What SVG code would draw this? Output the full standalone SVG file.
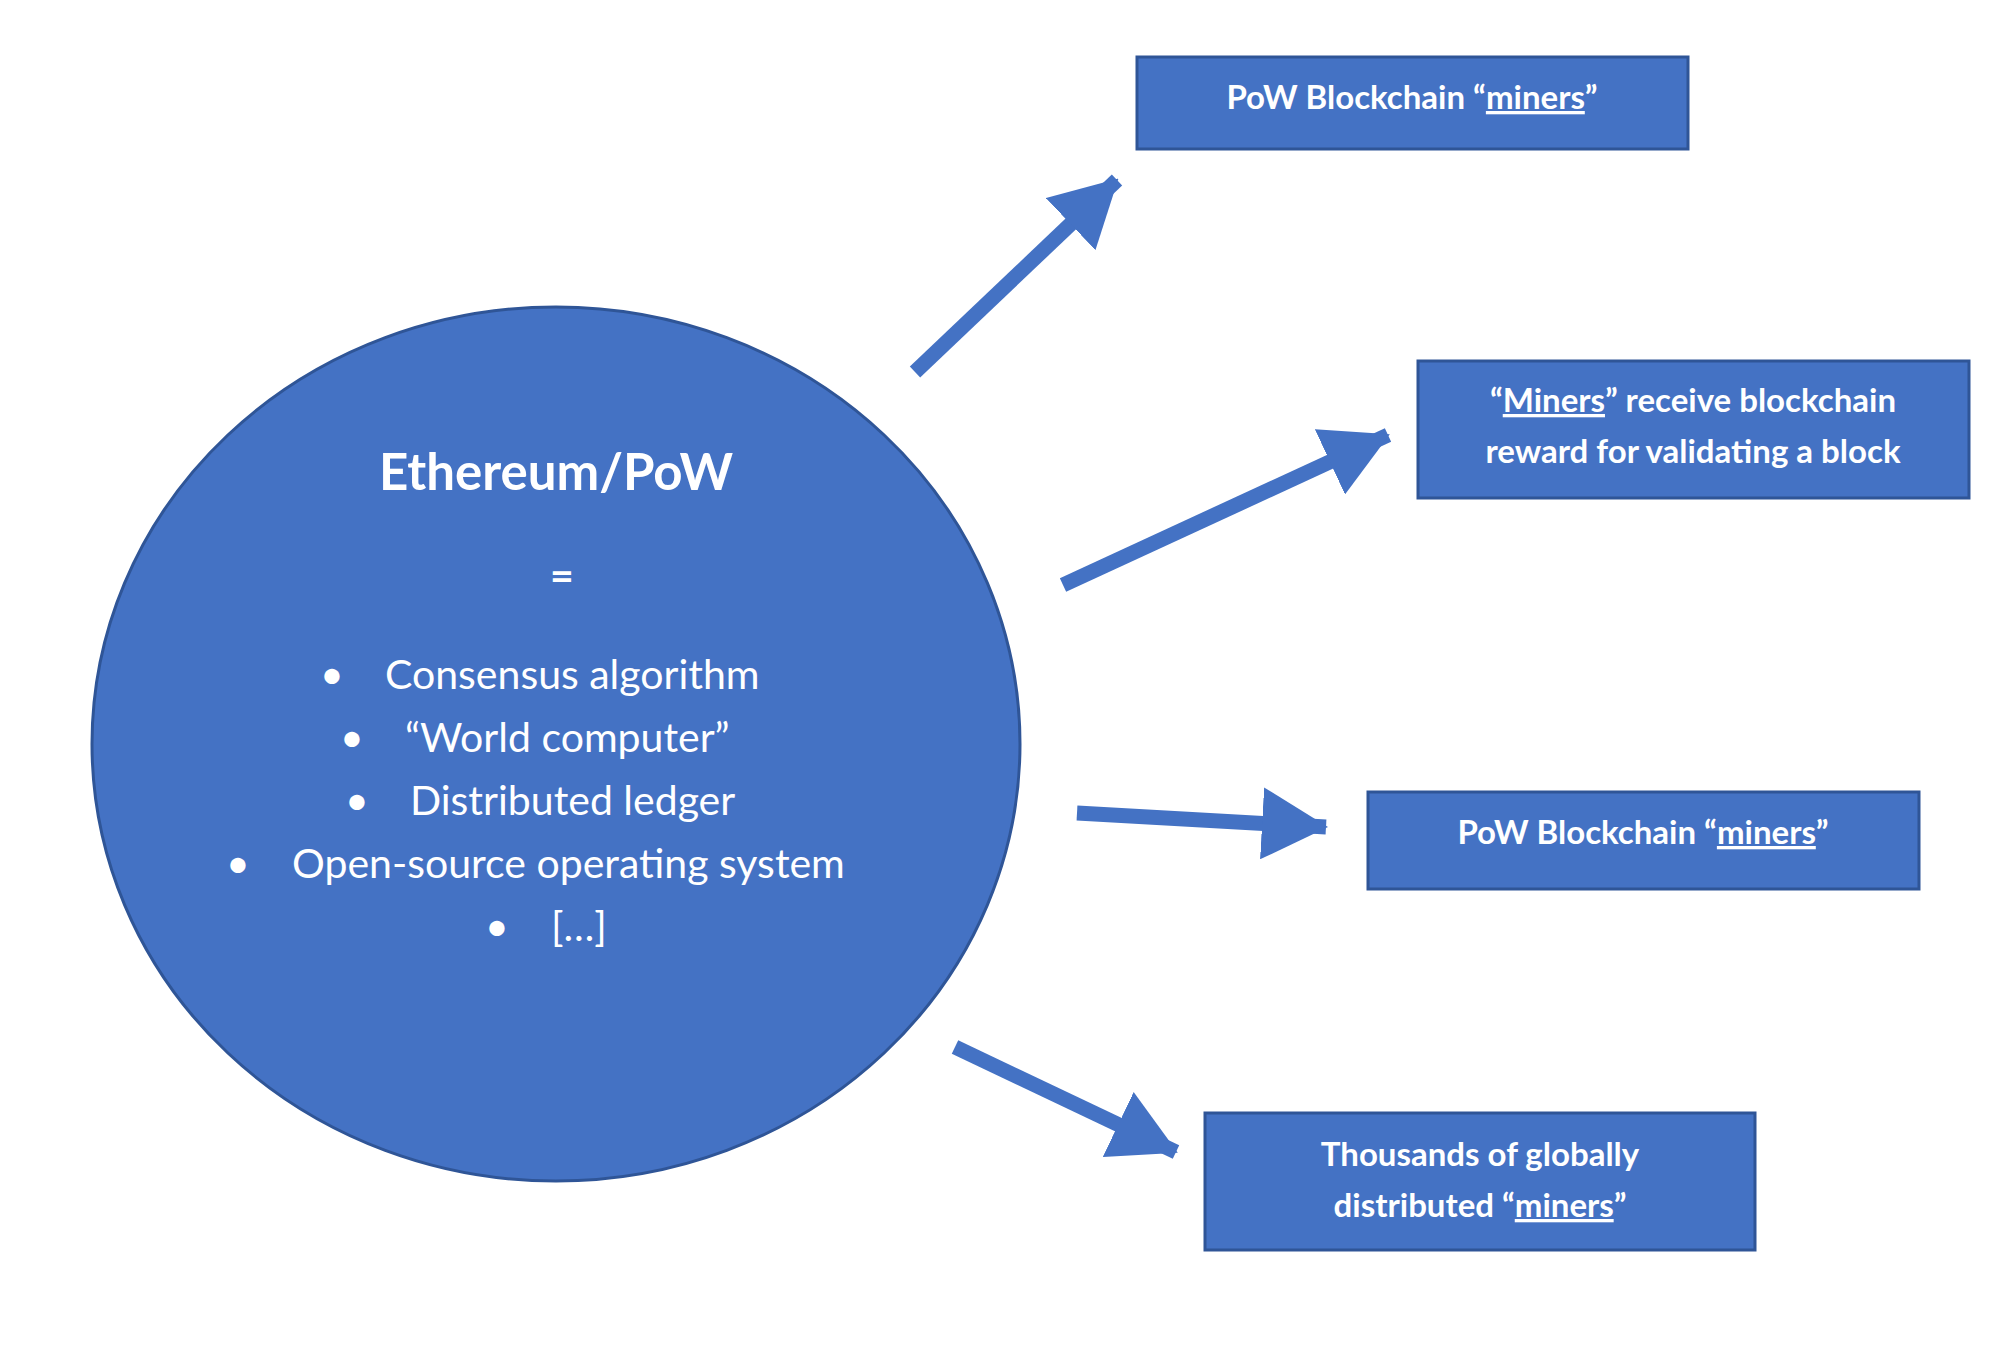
<svg xmlns="http://www.w3.org/2000/svg" width="2000" height="1359" viewBox="0 0 2000 1359">
<style>
.n{fill:#4472c4;stroke:#2f5597;stroke-width:3}
.t{fill:#fff;font-family:Lato,"Open Sans",sans-serif}
.b{font-weight:bold;font-size:33px}
.l{font-size:41px}
.u{text-decoration:underline}
.c{stroke:#4472c4;stroke-width:15;fill:none}
</style>
<defs><marker id="ah" markerUnits="userSpaceOnUse" markerWidth="66" markerHeight="72" refX="64" refY="36" orient="auto"><path d="M0,0 L66,36 L0,72 Z" fill="#4472c4"/></marker></defs>
<rect width="2000" height="1359" fill="#fff"/>
<g id="connectors">
<line class="c" x1="915" y1="372" x2="1117" y2="180" marker-end="url(#ah)"/>
<line class="c" x1="1063" y1="585" x2="1388" y2="435" marker-end="url(#ah)"/>
<line class="c" x1="1077" y1="813" x2="1326" y2="827" marker-end="url(#ah)"/>
<line class="c" x1="955" y1="1047" x2="1176" y2="1152" marker-end="url(#ah)"/>
</g>
<g id="ethereum">
<ellipse class="n" cx="556" cy="744" rx="464" ry="437"/>
<text class="t" x="556" y="490" font-size="51" font-weight="bold" text-anchor="middle">Ethereum/PoW</text>
<text class="t" x="562" y="590" font-size="41" font-weight="bold" text-anchor="middle">=</text>
<g class="t l">
<text x="320" y="689">•</text><text x="385" y="689">Consensus algorithm</text>
<text x="340" y="752">•</text><text x="405" y="752">“World computer”</text>
<text x="345" y="815">•</text><text x="410" y="815">Distributed ledger</text>
<text x="226" y="878">•</text><text x="292" y="878">Open-source operating system</text>
<text x="485" y="941">•</text><text x="551" y="941">[…]</text>
</g>
</g>
<g id="box1"><rect class="n" x="1137" y="57" width="551" height="92"/>
<text class="t b" x="1412" y="109" text-anchor="middle">PoW Blockchain “<tspan class="u">miners</tspan>”</text></g>
<g id="box2"><rect class="n" x="1418" y="361" width="551" height="137"/>
<text class="t b" x="1693" y="412" text-anchor="middle">“<tspan class="u">Miners</tspan>” receive blockchain</text>
<text class="t b" x="1693" y="463" text-anchor="middle">reward for validating a block</text></g>
<g id="box3"><rect class="n" x="1368" y="792" width="551" height="97"/>
<text class="t b" x="1643" y="844" text-anchor="middle">PoW Blockchain “<tspan class="u">miners</tspan>”</text></g>
<g id="box4"><rect class="n" x="1205" y="1113" width="550" height="137"/>
<text class="t b" x="1480" y="1166" text-anchor="middle">Thousands of globally</text>
<text class="t b" x="1480" y="1217" text-anchor="middle">distributed “<tspan class="u">miners</tspan>”</text></g>
</svg>
